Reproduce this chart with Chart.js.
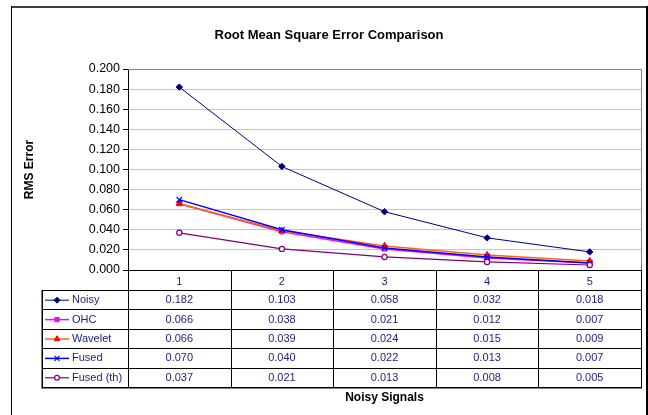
<!DOCTYPE html>
<html>
<head>
<meta charset="utf-8">
<script src="https://cdn.jsdelivr.net/npm/chart.js@4.4.1/dist/chart.umd.min.js"></script>
<style>
  html, body { margin: 0; padding: 0; background: #fff; }
  #wrap { width: 648px; height: 415px; position: relative; }
</style>
</head>
<body>
<div id="wrap"><canvas id="c" width="648" height="415"></canvas></div>
<script>
// ---- data ----
const categories = ['1', '2', '3', '4', '5'];
const seriesNames = ['Noisy', 'OHC', 'Wavelet', 'Fused', 'Fused (th)'];
const noisy    = [0.182, 0.103, 0.058, 0.032, 0.018];
const ohc      = [0.066, 0.038, 0.021, 0.012, 0.007];
const wavelet  = [0.066, 0.039, 0.024, 0.015, 0.009];
const fused    = [0.070, 0.040, 0.022, 0.013, 0.007];
const fusedTh  = [0.037, 0.021, 0.013, 0.008, 0.005];
const yTicks   = [0.000, 0.020, 0.040, 0.060, 0.080, 0.100, 0.120, 0.140, 0.160, 0.180, 0.200];
const chartTitle = 'Root Mean Square Error Comparison';
const xTitle = 'Noisy Signals';
const yTitle = 'RMS Error';

const FONT = "'Liberation Sans', Arial, sans-serif";
const NAVY_TEXT = '#1c1c82';

const styles = [
  { line: '#000080', fill: '#000080', stroke: '#000080', point: 'rectRot', r: 3.2, lr: 3, bw: 1, lw: 1 },
  { line: '#FF00FF', fill: '#FF00FF', stroke: '#FF00FF', point: 'rect', r: 3, lr: 3, bw: 1, lw: 1.5 },
  { line: '#FF6600', fill: '#FF0000', stroke: '#FF0000', point: 'triangle', r: 3.6, lr: 3.3, bw: 1, lw: 1.5 },
  { line: '#0000FF', fill: '#0000FF', stroke: '#0000FF', point: 'crossRot', r: 4, lr: 3.5, bw: 1.2, lw: 1.5 },
  { line: '#800080', fill: '#ffffff', stroke: '#800080', point: 'circle', r: 2.6, lr: 2.4, bw: 1.2, lw: 1.2 }
];
const seriesData = [noisy, ohc, wavelet, fused, fusedTh];

const datasets = seriesNames.map((name, i) => ({
  label: name,
  data: seriesData[i],
  borderColor: styles[i].line,
  borderWidth: styles[i].lw,
  backgroundColor: styles[i].fill,
  pointBackgroundColor: styles[i].fill,
  pointBorderColor: styles[i].stroke,
  pointBorderWidth: styles[i].bw,
  pointStyle: styles[i].point,
  pointRadius: styles[i].r,
  tension: 0,
  fill: false,
  order: seriesNames.length - i
}));

const tablePlugin = {
  id: 'excelTable',
  beforeDraw(chart) {
    const ctx = chart.ctx;
    ctx.save();
    ctx.fillStyle = '#ffffff';
    ctx.fillRect(0, 0, chart.width, chart.height);
    ctx.restore();
  },
  afterDraw(chart) {
    const ctx = chart.ctx;
    const area = chart.chartArea;
    const xs = chart.scales.x;
    ctx.save();

    // outer frame
    ctx.fillStyle = '#404040';
    ctx.fillRect(11, 6, 637, 2);
    ctx.fillStyle = '#000000';
    ctx.fillRect(11, 6, 1, 415);
    ctx.fillRect(646, 6, 2, 415);

    // plot area border (top/right)
    ctx.strokeStyle = '#808080';
    ctx.lineWidth = 1;
    ctx.beginPath();
    ctx.moveTo(area.left, Math.round(area.top) + 0.5);
    ctx.lineTo(area.right + 0.5, Math.round(area.top) + 0.5);
    ctx.lineTo(area.right + 0.5, area.bottom);
    ctx.stroke();

    // title
    ctx.fillStyle = '#000';
    ctx.font = 'bold 13px ' + FONT;
    ctx.textAlign = 'center';
    ctx.textBaseline = 'middle';
    ctx.fillText(chartTitle, 329, 35);

    // x title
    ctx.font = 'bold 12px ' + FONT;
    ctx.fillText(xTitle, (area.left + area.right) / 2, 398);

    // y title
    ctx.save();
    ctx.translate(30, (area.top + area.bottom) / 2);
    ctx.rotate(-Math.PI / 2);
    ctx.fillText(yTitle, 0, 0);
    ctx.restore();

    // data table
    const top = area.bottom;
    const headerH = 20;
    const rowH = 19.4;
    const rowsTop = top + headerH;
    const bottom = rowsTop + rowH * seriesNames.length;
    const legendLeft = 42;

    // column boundaries
    const bounds = [area.left];
    for (let i = 0; i < categories.length - 1; i++) {
      bounds.push((xs.getPixelForValue(i) + xs.getPixelForValue(i + 1)) / 2);
    }
    bounds.push(area.right);

    ctx.strokeStyle = '#000';
    ctx.lineWidth = 1;
    ctx.beginPath();
    bounds.forEach(bx => {
      const px = Math.round(bx) + 0.5;
      ctx.moveTo(px, top);
      ctx.lineTo(px, bottom);
    });
    ctx.moveTo(legendLeft + 0.5, rowsTop);
    ctx.lineTo(legendLeft + 0.5, bottom);
    for (let r = 0; r <= seriesNames.length; r++) {
      const py = Math.round(rowsTop + r * rowH) + 0.5;
      ctx.moveTo(legendLeft, py);
      ctx.lineTo(area.right + 1, py);
    }
    ctx.stroke();

    // bottom/left shadow
    ctx.strokeStyle = '#808080';
    ctx.beginPath();
    ctx.moveTo(legendLeft - 0.5, rowsTop);
    ctx.lineTo(legendLeft - 0.5, bottom + 1.5);
    ctx.lineTo(area.right + 1, bottom + 1.5);
    ctx.stroke();

    // values + legend entries
    ctx.font = '11px ' + FONT;
    ctx.textBaseline = 'middle';
    seriesNames.forEach((name, r) => {
      const cy = rowsTop + r * rowH + rowH / 2 + 0.5;
      ctx.fillStyle = NAVY_TEXT;
      ctx.textAlign = 'center';
      seriesData[r].forEach((v, i) => {
        ctx.fillText(v.toFixed(3), xs.getPixelForValue(i), cy);
      });
      // legend symbol
      const st = styles[r];
      ctx.strokeStyle = st.line;
      ctx.lineWidth = st.lw;
      ctx.beginPath();
      ctx.moveTo(45, cy);
      ctx.lineTo(69, cy);
      ctx.stroke();
      ctx.fillStyle = st.fill;
      ctx.strokeStyle = st.stroke;
      ctx.lineWidth = st.bw;
      if (Chart.helpers && Chart.helpers.drawPoint) {
        Chart.helpers.drawPoint(ctx, { pointStyle: st.point, radius: st.lr, borderWidth: st.bw, rotation: 0 }, 57, cy);
      }
      ctx.fillStyle = NAVY_TEXT;
      ctx.textAlign = 'left';
      ctx.fillText(name, 72, cy);
    });

    ctx.restore();
  }
};

new Chart(document.getElementById('c'), {
  type: 'line',
  data: { labels: categories, datasets },
  options: {
    responsive: false,
    animation: false,
    events: [],
    layout: { padding: { top: 69, right: 7, left: 0, bottom: 0 } },
    plugins: { legend: { display: false }, tooltip: { enabled: false }, title: { display: false } },
    scales: {
      x: {
        type: 'category',
        offset: true,
        grid: { display: false, drawTicks: false },
        border: { display: true, color: '#000', width: 1 },
        ticks: { color: NAVY_TEXT, font: { family: FONT, size: 11 }, padding: 5, maxRotation: 0 },
        afterFit(s) { s.height = 145; }
      },
      y: {
        min: 0, max: 0.2,
        afterBuildTicks(s) { s.ticks = yTicks.map(v => ({ value: v })); },
        grid: { color: '#c4c4c4', lineWidth: 1, tickColor: '#000', tickLength: 5, drawTicks: true },
        border: { display: true, color: '#000', width: 1 },
        ticks: { color: '#000', font: { family: FONT, size: 12.5 }, padding: 3, callback: v => Number(v).toFixed(3) },
        afterFit(s) { s.width = 128; }
      }
    }
  },
  plugins: [tablePlugin]
});
</script>
</body>
</html>
